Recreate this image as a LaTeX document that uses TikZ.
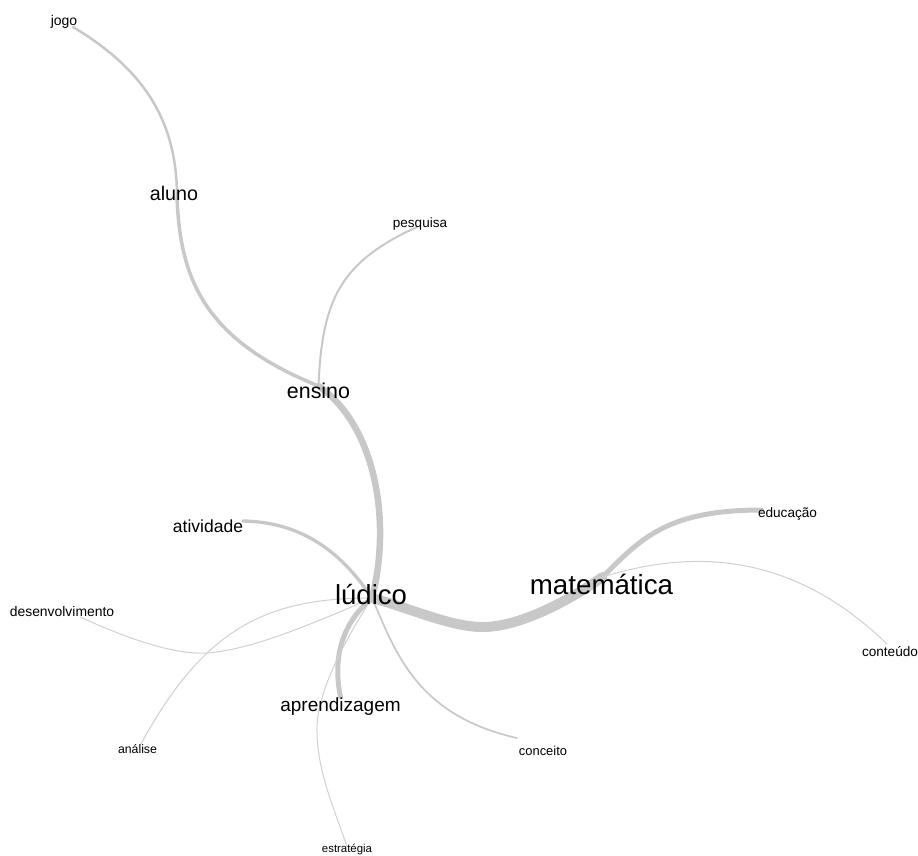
\documentclass[tikz,border=0pt]{standalone}
\usepackage{fontspec}
\setmainfont{Liberation Sans}
\usetikzlibrary{backgrounds}
\definecolor{edgec}{RGB}{200,200,200}
\definecolor{edgel}{RGB}{208,208,208}
\begin{document}
\begin{tikzpicture}[x=1pt,y=-1pt,
  word/.style={anchor=base, inner sep=0pt, text=black, font=\fontsize{#1pt}{#1pt}\selectfont},
  link/.style={draw=edgec, line cap=round},
  thin link/.style={draw=edgel, line width=1pt, line cap=round},
]
\useasboundingbox (0,0) rectangle (918,855);

\node[word=14] (jogo) at (64,25) {jogo};
\node[word=19.7] (aluno) at (174,200) {aluno};
\node[word=21.4] (ensino) at (318.5,398) {ensino};
\node[word=13.5] (pesquisa) at (420,227) {pesquisa};
\node[word=17.5] (atividade) at (208,532) {atividade};
\node[word=27.5] (ludico) at (371,604) {lúdico};
\node[word=27.7] (matematica) at (601.5,594) {matemática};
\node[word=13.6] (educacao) at (787.5,517) {educação};
\node[word=13.6] (conteudo) at (890,656) {conteúdo};
\node[word=13.9] (desenv) at (62,616) {desenvolvimento};
\node[word=12.3] (analise) at (137.5,753) {análise};
\node[word=19] (aprend) at (340.5,711) {aprendizagem};
\node[word=11.4] (estrategia) at (347,852) {estratégia};
\node[word=12.9] (conceito) at (543,755) {conceito};

\begin{pgfonlayer}{background}
\draw[link, line width=2.5pt] ([shift={(9,2)}]jogo.base) .. controls (145,70) and (177,122) .. ([shift={(3,-3)}]aluno.base);
\draw[link, line width=3.5pt] ([shift={(3,-3)}]aluno.base) .. controls (180,280) and (205,340) .. ([shift={(0,-12)}]ensino.base);
\draw[link, line width=2pt] ([shift={(0,-12)}]ensino.base) .. controls (322,300) and (340,262) .. ([shift={(-3,0)}]pesquisa.base);
\draw[link, line width=6.5pt] ([shift={(0,-12)}]ensino.base) .. controls (375,425) and (392,520) .. ([shift={(1,-6)}]ludico.base);
\draw[link, line width=10pt] ([shift={(1,-6)}]ludico.base) .. controls (410,608) and (450,627) .. (483,627) .. controls (520,627) and (570,600) .. ([shift={(1,-17)}]matematica.base);
\draw[link, line width=5pt] ([shift={(1,-17)}]matematica.base) .. controls (640,540) and (665,510) .. ([shift={(-26,-7)}]educacao.base);
\draw[thin link] ([shift={(1,-17)}]matematica.base) .. controls (690,550) and (790,550) .. ([shift={(-3,-12)}]conteudo.base);
\draw[link, line width=3.3pt] ([shift={(1,-6)}]ludico.base) .. controls (340,550) and (300,522) .. ([shift={(35,-11)}]atividade.base);
\draw[thin link] ([shift={(1,-6)}]ludico.base) .. controls (310,625) and (250,650) .. (207,653) .. controls (170,655) and (120,635) .. ([shift={(18,1)}]desenv.base);
\draw[thin link] ([shift={(1,-6)}]ludico.base) .. controls (270,598) and (205,625) .. ([shift={(3,-8)}]analise.base);
\draw[link, line width=5pt] ([shift={(1,-6)}]ludico.base) .. controls (340,625) and (333,660) .. ([shift={(0,-14)}]aprend.base);
\draw[thin link] ([shift={(1,-6)}]ludico.base) .. controls (345,640) and (318,690) .. (317,727) .. controls (316,770) and (335,810) .. ([shift={(0,-5)}]estrategia.base);
\draw[link, line width=1.7pt] ([shift={(1,-6)}]ludico.base) .. controls (395,650) and (415,715) .. ([shift={(-26,-17)}]conceito.base);
\end{pgfonlayer}
\end{tikzpicture}
\end{document}
